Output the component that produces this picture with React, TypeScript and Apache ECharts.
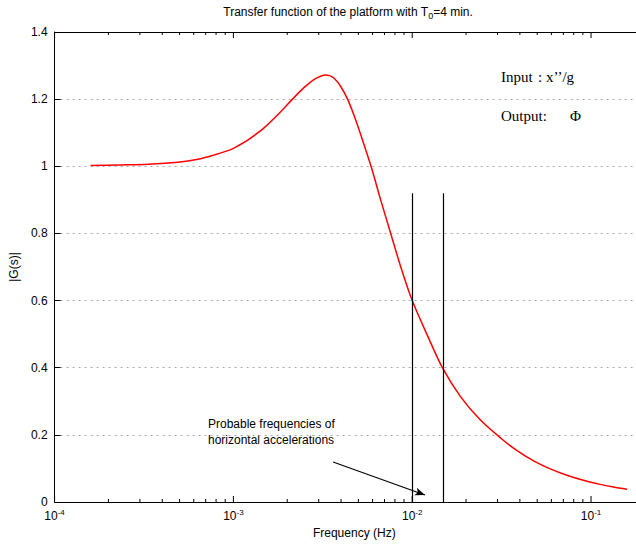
import React, { useEffect, useRef } from "react";
import * as echarts from "echarts";

// |G(s)| curve (frequency in Hz, magnitude)
const frequencies = [
  1.59e-4, 2.3e-4, 3.33e-4, 4.9e-4, 6.33e-4, 7.83e-4, 9.5e-4, 1.07e-3, 1.203e-3,
  1.35e-3, 1.49e-3, 1.845e-3, 2.14e-3, 2.49e-3, 2.83e-3, 3.1e-3, 3.26e-3, 3.45e-3,
  3.66e-3, 3.99e-3, 4.35e-3, 4.83e-3, 5.38e-3, 5.93e-3, 6.66e-3, 7.58e-3,
  8.62e-3, 0.01, 0.01214, 0.01472, 0.01862, 0.02407, 0.0318, 0.03857, 0.04773,
  0.0591, 0.0733, 0.0907, 0.1124, 0.1334, 0.159,
];
const gains = [
  1.002, 1.004, 1.006, 1.012, 1.021, 1.034, 1.048, 1.062, 1.078, 1.097, 1.115,
  1.163, 1.2, 1.235, 1.259, 1.269, 1.272, 1.27, 1.262, 1.237, 1.2, 1.138, 1.064,
  0.994, 0.9, 0.8, 0.701, 0.6, 0.497, 0.401, 0.314, 0.244, 0.187, 0.153, 0.1225,
  0.0985, 0.0795, 0.0645, 0.0525, 0.0447, 0.038,
];

// vertical markers of probable horizontal acceleration frequencies
const markerFrequencies = [0.01, 0.015];
const markerTop = 0.92;
// annotation arrow (frequency, magnitude)
const arrowFrom = [0.00361, 0.119];
const arrowTo = [0.01178, 0.021];

// axis ranges and tick values
const xMin = 1e-4;
const xMax = 0.1784; // visible right edge of the (cropped) plot box
const yMin = 0;
const yMax = 1.4;
const yStep = 0.2;
const majorTickValues = [1e-4, 1e-3, 1e-2, 1e-1];
const minorTickValues = [
  2e-4, 3e-4, 4e-4, 5e-4, 6e-4, 7e-4, 8e-4, 9e-4,
  2e-3, 3e-3, 4e-3, 5e-3, 6e-3, 7e-3, 8e-3, 9e-3,
  2e-2, 3e-2, 4e-2, 5e-2, 6e-2, 7e-2, 8e-2, 9e-2,
];

const titleText = "{a|Transfer function of the platform with T}{sub|0}{a|=4 min.}";
const noteLines = ["Probable frequencies of", "horizontal accelerations"];

const SANS = "'Liberation Sans', Arial, Helvetica, sans-serif";
const SERIF = "'Liberation Serif', 'Times New Roman', serif";

export default function App() {
  const ref = useRef<HTMLDivElement>(null);

  useEffect(() => {
    if (!ref.current) return;
    const chart = echarts.init(ref.current, null, { renderer: "svg" });

    const curve = frequencies.map((f, i) => [f, gains[i]]);
    const tickData = [
      ...majorTickValues.map((v) => [v, 6]),
      ...minorTickValues.map((v) => [v, 3]),
    ];

    const expFormatter = (v: number) => {
      const e = Math.log10(v);
      const r = Math.round(e);
      if (Math.abs(e - r) > 1e-6) return "";
      return "{b|10}{s|" + r + "}";
    };

    const option: any = {
      animation: false,
      backgroundColor: "#fff",
      grid: { left: 53, top: 32, right: 0, bottom: 42, containLabel: false },
      xAxis: [
        {
          type: "log",
          logBase: 10,
          min: xMin,
          max: xMax,
          position: "bottom",
          axisLine: { show: true, lineStyle: { color: "#000", width: 1 } },
          axisTick: { show: false },
          splitLine: { show: false },
          minorTick: { show: false },
          axisLabel: {
            formatter: expFormatter,
            margin: 6,
            showMaxLabel: false,
            color: "#000",
            rich: {
              b: { fontSize: 12, fontFamily: SANS, color: "#000", lineHeight: 16 },
              s: { fontSize: 8, fontFamily: SANS, color: "#000", lineHeight: 6, verticalAlign: "top" },
            },
          },
          name: "Frequency (Hz)",
          nameLocation: "middle",
          nameGap: 23,
          nameTextStyle: { fontSize: 12, fontFamily: SANS, color: "#000", padding: [0, 0, 0, 18] },
        },
        {
          type: "log",
          logBase: 10,
          min: xMin,
          max: xMax,
          position: "top",
          axisLine: { show: true, lineStyle: { color: "#000", width: 1 } },
          axisTick: { show: false },
          splitLine: { show: false },
          axisLabel: { show: false },
        },
      ],
      yAxis: [
        {
          type: "value",
          min: yMin,
          max: yMax,
          interval: yStep,
          axisLine: { show: true, lineStyle: { color: "#000", width: 1 } },
          axisTick: { show: true, inside: true, length: 6, lineStyle: { color: "#000" } },
          splitLine: { show: true, lineStyle: { color: "#aaaaaa", width: 1, type: [2, 4] } },
          axisLabel: { fontSize: 12, fontFamily: SANS, color: "#000", margin: 7 },
          name: "|G(s)|",
          nameLocation: "middle",
          nameGap: 29,
          nameTextStyle: { fontSize: 12, fontFamily: SANS, color: "#000" },
        },
      ],
      series: [
        {
          type: "line",
          data: curve,
          xAxisIndex: 0,
          yAxisIndex: 0,
          smooth: 0.3,
          showSymbol: false,
          symbol: "none",
          lineStyle: { color: "#ff0000", width: 1.5 },
          silent: true,
          z: 3,
        },
        {
          type: "line",
          data: [],
          xAxisIndex: 0,
          yAxisIndex: 0,
          silent: true,
          markLine: {
            silent: true,
            symbol: ["none", "none"],
            label: { show: false },
            lineStyle: { color: "#000", width: 1.2, type: "solid" },
            data: [
              ...markerFrequencies.map((f) => [
                { coord: [f, yMin] },
                { coord: [f, markerTop] },
              ]),
              [
                { coord: arrowFrom, symbol: "none" },
                { coord: arrowTo, symbol: "arrow", symbolSize: [6, 10] },
              ],
            ],
          },
          z: 4,
        },
        {
          type: "custom",
          xAxisIndex: 0,
          yAxisIndex: 0,
          silent: true,
          clip: false,
          data: tickData,
          renderItem: (params: any, api: any) => {
            const v = api.value(0);
            const len = api.value(1);
            const b = api.coord([v, yMin]);
            const t = api.coord([v, yMax]);
            return {
              type: "group",
              children: [
                { type: "line", shape: { x1: b[0], y1: b[1], x2: b[0], y2: b[1] - len }, style: { stroke: "#000", lineWidth: 1 } },
                { type: "line", shape: { x1: t[0], y1: t[1], x2: t[0], y2: t[1] + len }, style: { stroke: "#000", lineWidth: 1 } },
              ],
            };
          },
          z: 5,
        },
      ],
      graphic: [
        {
          type: "text",
          x: 348,
          y: 12,
          style: {
            text: titleText,
            align: "center",
            verticalAlign: "middle",
            fill: "#000",
            rich: {
              a: { fontSize: 12, fontFamily: SANS, fill: "#000", lineHeight: 16 },
              sub: { fontSize: 9, fontFamily: SANS, fill: "#000", lineHeight: 7, verticalAlign: "bottom" },
            },
          },
        },
        {
          type: "text",
          x: 208,
          y: 424,
          style: { text: noteLines[0], fontSize: 12, fontFamily: SANS, fill: "#000", verticalAlign: "middle" },
        },
        {
          type: "text",
          x: 208,
          y: 440,
          style: { text: noteLines[1], fontSize: 12, fontFamily: SANS, fill: "#000", verticalAlign: "middle" },
        },
        {
          type: "text",
          x: 501,
          y: 77,
          style: { text: "Input", fontSize: 15, fontFamily: SERIF, fill: "#000", verticalAlign: "middle" },
        },
        {
          type: "text",
          x: 538,
          y: 77,
          style: { text: ":", fontSize: 15, fontFamily: SERIF, fill: "#000", verticalAlign: "middle" },
        },
        {
          type: "text",
          x: 546,
          y: 77,
          style: { text: "x\u2019\u2019/g", fontSize: 15, fontFamily: SERIF, fill: "#000", verticalAlign: "middle" },
        },
        {
          type: "text",
          x: 501,
          y: 116,
          style: { text: "Output:", fontSize: 15, fontFamily: SERIF, fill: "#000", verticalAlign: "middle" },
        },
        {
          type: "text",
          x: 570,
          y: 116,
          style: { text: "\u03a6", fontSize: 15, fontFamily: SERIF, fill: "#000", verticalAlign: "middle" },
        },
      ],
    };

    chart.setOption(option);
    return () => chart.dispose();
  }, []);

  return (
    <div
      ref={ref}
      style={{ position: "absolute", left: 0, top: 0, width: 636, height: 544, background: "#fff" }}
    />
  );
}
